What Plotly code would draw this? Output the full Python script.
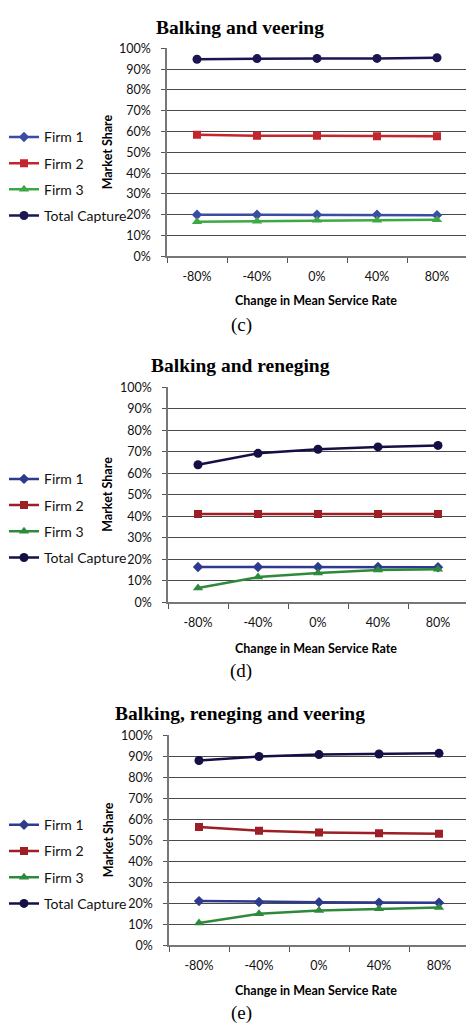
import plotly.graph_objects as go

W, H = 466, 1033

categories = ["-80%", "-40%", "0%", "40%", "80%"]
series_names = ["Firm 1", "Firm 2", "Firm 3", "Total Capture"]

# Panel (c) Balking and veering
c_firm1 = [0.200, 0.200, 0.200, 0.200, 0.198]
c_firm2 = [0.585, 0.580, 0.580, 0.578, 0.578]
c_firm3 = [0.166, 0.169, 0.173, 0.173, 0.176]
c_total = [0.948, 0.951, 0.952, 0.952, 0.955]

# Panel (d) Balking and reneging
d_firm1 = [0.164, 0.164, 0.164, 0.164, 0.163]
d_firm2 = [0.411, 0.411, 0.411, 0.411, 0.411]
d_firm3 = [0.066, 0.117, 0.136, 0.150, 0.153]
d_total = [0.640, 0.693, 0.712, 0.723, 0.730]

# Panel (e) Balking, reneging and veering
e_firm1 = [0.210, 0.206, 0.205, 0.203, 0.202]
e_firm2 = [0.563, 0.545, 0.537, 0.533, 0.531]
e_firm3 = [0.106, 0.150, 0.165, 0.173, 0.180]
e_total = [0.880, 0.899, 0.908, 0.911, 0.914]

panels = [
    dict(title="Balking and veering", label="(c)",
         data=[c_firm1, c_firm2, c_firm3, c_total],
         colors=["#3A4DA3", "#C3262D", "#3DA945", "#1B1651"],
         x0=167, top=41, bottom=252, title_y=20, xtitle_y=297, label_y=322,
         ytitle_x=107, legend_y=133),
    dict(title="Balking and reneging", label="(d)",
         data=[d_firm1, d_firm2, d_firm3, d_total],
         colors=["#2E3A8E", "#9C1F25", "#2E8A3B", "#141045"],
         x0=168, top=385, bottom=603, title_y=363, xtitle_y=650, label_y=673,
         ytitle_x=108, legend_y=480),
    dict(title="Balking, reneging and veering", label="(e)",
         data=[e_firm1, e_firm2, e_firm3, e_total],
         colors=["#2E3A8E", "#9C1F25", "#2E8A3B", "#141045"],
         x0=169, top=738, bottom=951, title_y=716, xtitle_y=997, label_y=1020,
         ytitle_x=108, legend_y=831),
]

symbols = ["diamond", "square", "triangle-up", "circle"]
msizes = [8, 8, 9, 9]

def px(x):
    return x / W

def py(y):
    return 1 - y / H

fig = go.Figure()
annotations = []
layout = {}
tick_font = dict(family="Lato, Open Sans, sans-serif", size=12.5, color="#111")

for i, p in enumerate(panels):
    n = i + 1
    xa = "x" if n == 1 else f"x{n}"
    ya = "y" if n == 1 else f"y{n}"
    lg = "legend" if n == 1 else f"legend{n}"
    for j, (name, vals) in enumerate(zip(series_names, p["data"])):
        fig.add_trace(go.Scatter(
            x=categories, y=vals, name=name, mode="lines+markers",
            xaxis=xa, yaxis=ya, legend=lg, legendgroup=f"{n}_{j}",
            line=dict(color=p["colors"][j], width=2.5),
            marker=dict(symbol=symbols[j], size=msizes[j], color=p["colors"][j]),
        ))
    xkey = "xaxis" if n == 1 else f"xaxis{n}"
    ykey = "yaxis" if n == 1 else f"yaxis{n}"
    layout[xkey] = dict(
        domain=[px(p["x0"]), 1.0], anchor=ya, type="category",
        range=[-0.5, -0.5 + (W - p["x0"]) / 60.0],
        tickson="boundaries", ticks="outside", ticklen=5, tickcolor="#555",
        showgrid=False, showline=True, linecolor="#777", linewidth=1.5,
        tickfont=tick_font, ticklabelstandoff=8, zeroline=False,
    )
    layout[ykey] = dict(
        domain=[py(p["bottom"]), py(p["top"])], anchor=xa,
        range=[0, 1.0], dtick=0.1, tickformat=".0%",
        ticks="outside", ticklen=4, tickcolor="#555",
        showgrid=True, gridcolor="#4a4a4a", gridwidth=1,
        showline=True, linecolor="#777", linewidth=1.5,
        tickfont=tick_font, ticklabelstandoff=8, zeroline=False,
    )
    layout[lg] = dict(
        x=px(4), y=py(p["legend_y"] - 18), xanchor="left", yanchor="top",
        bgcolor="rgba(0,0,0,0)", tracegroupgap=5,
        font=dict(family="Lato, Open Sans, sans-serif", size=14, color="#111"),
        itemsizing="trace",
    )
    annotations.append(dict(
        text="<b>" + p["title"] + "</b>", x=px(240), y=py(p["title_y"]),
        xref="paper", yref="paper", showarrow=False, xanchor="center", yanchor="middle",
        font=dict(family="Liberation Serif, Times New Roman, serif", size=19.5, color="#000"),
    ))
    annotations.append(dict(
        text="<b>Change in Mean Service Rate</b>", x=px(316), y=py(p["xtitle_y"]),
        xref="paper", yref="paper", showarrow=False, xanchor="center", yanchor="middle",
        font=dict(family="Lato, Open Sans, sans-serif", size=12.5, color="#000"),
    ))
    annotations.append(dict(
        text="<b>Market Share</b>", x=px(p["ytitle_x"]), y=py((p["top"] + p["bottom"]) / 2),
        xref="paper", yref="paper", showarrow=False, xanchor="center", yanchor="middle",
        textangle=-90,
        font=dict(family="Lato, Open Sans, sans-serif", size=12.5, color="#000"),
    ))
    annotations.append(dict(
        text=p["label"], x=px(241), y=py(p["label_y"]),
        xref="paper", yref="paper", showarrow=False, xanchor="center", yanchor="middle",
        font=dict(family="Liberation Serif, Times New Roman, serif", size=19, color="#000"),
    ))

fig.update_layout(
    width=W, height=H, margin=dict(l=0, r=0, t=0, b=0),
    paper_bgcolor="white", plot_bgcolor="white",
    showlegend=True, annotations=annotations, **layout,
)

fig.write_html(
    "out.html",
    config={"displayModeBar": False},
    post_script="document.body.style.margin='0';",
)
